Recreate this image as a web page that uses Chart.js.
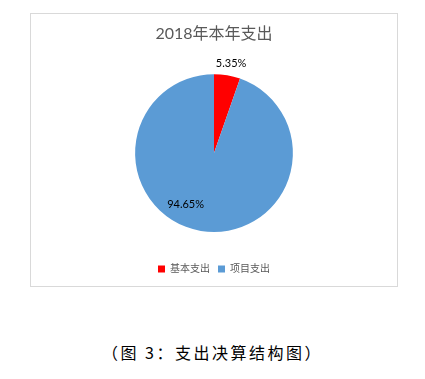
<!DOCTYPE html>
<html>
<head>
<meta charset="utf-8">
<script src="https://cdn.jsdelivr.net/npm/chart.js@4/dist/chart.umd.min.js"></script>
<style>
  html, body { margin: 0; padding: 0; background: #fff; }
  body { width: 425px; height: 379px; position: relative; overflow: hidden; }
  #box {
    position: absolute; left: 30px; top: 13px; width: 366px; height: 272px;
    border: 1px solid #d9d9d9; box-sizing: content-box;
  }
  #box canvas { display: block; }
  #caption {
    position: absolute; left: 0; width: 425px; top: 342px; text-align: center;
    font-family: "Noto Sans CJK SC", sans-serif; font-size: 16px; letter-spacing: 2.5px;
    color: #000; line-height: 20px;
  }
</style>
</head>
<body>
<div id="box"><canvas id="c" width="366" height="272"></canvas></div>
<div id="caption">（图 3：支出决算结构图）</div>
<script>
// Expenditure structure for 2018
const categories = ['基本支出', '项目支出'];
const shares = [5.35, 94.65];
const sliceColors = ['#FF0000', '#5B9BD5'];
const chartTitle = '2018年本年支出';

const FONT = 'Lato, "Noto Sans CJK SC", sans-serif';

// Percentage labels: first slice label sits just outside the rim,
// the large slice label sits inside, rotated toward the lower left.
const labelPlugin = {
  id: 'pctLabels',
  afterDatasetsDraw(chart) {
    const ctx = chart.ctx;
    const meta = chart.getDatasetMeta(0);
    const placements = [
      { radiusFactor: 1.16, angleShift: 0.02 },
      { radiusFactor: 0.74, angleShift: 0.34 }
    ];
    ctx.save();
    ctx.font = '11px ' + FONT;
    ctx.fillStyle = '#000';
    ctx.textAlign = 'center';
    ctx.textBaseline = 'middle';
    meta.data.forEach((arc, i) => {
      const p = arc.getProps(['x', 'y', 'startAngle', 'endAngle', 'outerRadius'], true);
      const mid = (p.startAngle + p.endAngle) / 2 + placements[i].angleShift;
      const r = p.outerRadius * placements[i].radiusFactor;
      const x = p.x + Math.cos(mid) * r;
      const y = p.y + Math.sin(mid) * r;
      ctx.fillText(shares[i].toFixed(2) + '%', x, y);
    });
    ctx.restore();
  }
};

new Chart(document.getElementById('c'), {
  type: 'pie',
  data: {
    labels: categories,
    datasets: [{
      data: shares,
      backgroundColor: sliceColors,
      borderWidth: 0
    }]
  },
  options: {
    responsive: false,
    animation: false,
    layout: { padding: { top: 0, bottom: 2, left: 0, right: 0 } },
    plugins: {
      title: {
        display: true,
        text: chartTitle,
        color: '#595959',
        font: { family: FONT, size: 16, weight: 'normal' },
        padding: { top: 10, bottom: 31 }
      },
      legend: {
        position: 'bottom',
        // empty legend title only reserves the gap between pie and legend row
        title: { display: true, text: '', font: { size: 10 }, padding: 6 },
        labels: {
          color: '#595959',
          font: { family: FONT, size: 10 },
          boxWidth: 7,
          boxHeight: 7,
          padding: 8
        }
      },
      tooltip: { enabled: false }
    }
  },
  plugins: [labelPlugin]
});
</script>
</body>
</html>
